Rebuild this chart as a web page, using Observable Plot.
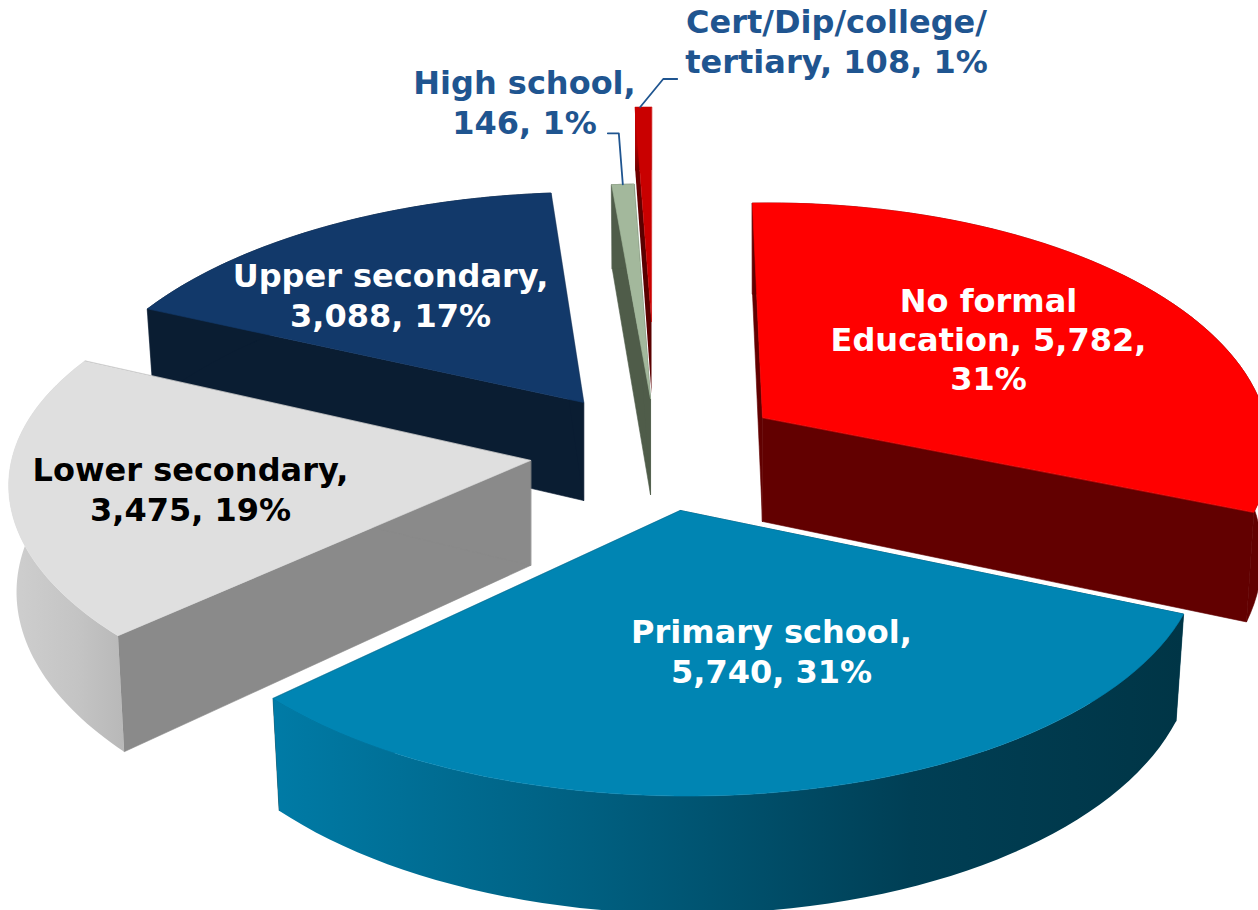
<!DOCTYPE html>
<html>
<head>
<meta charset="utf-8">
<script src="https://cdn.jsdelivr.net/npm/d3@7"></script>
<script src="https://cdn.jsdelivr.net/npm/@observablehq/plot@0.6"></script>
<style>html,body{margin:0;padding:0;background:#fff;overflow:hidden}svg{display:block}</style>
</head>
<body>
<div id="chart"></div>
<script>
// Data
const categories = ["No formal Education", "Primary school", "Lower secondary", "Upper secondary", "High school", "Cert/Dip/college/tertiary"];
const values = [5782, 5740, 3475, 3088, 146, 108];
const percents = ["31%", "31%", "19%", "17%", "1%", "1%"];
const labelLines = [
  "No formal\nEducation, 5,782,\n31%",
  "Primary school,\n5,740, 31%",
  "Lower secondary,\n3,475, 19%",
  "Upper secondary,\n3,088, 17%",
  "High school,\n146, 1%",
  "Cert/Dip/college/\ntertiary, 108, 1%"
];

// Styles
const topFill = ["#ff0000", "#0085b3", "#dfdfdf", "#12396a", "#a3b89c", "#c90000"];
const wallFill = ["#620000", "url(#wallPrimary)", "url(#wallLower)", "#0a1d32", "#4f5c49", "url(#wallCertTop)"];
const edgeFill = ["#620000", "#003a4d", "#8a8a8a", "#0a1d32", "#4f5c49", "url(#wallCert)"];
const textFill = ["#ffffff", "#ffffff", "#000000", "#ffffff", "#1f5590", "#1f5590"];

// Layout of the exploded 3D pie (pixels in the x/y scales)
const W = 1258, H = 910;
const apexX = [762, 680, 530, 583, 650, 651];
const apexY = [417, 510, 460, 402, 398, 321];
const radiusX = [503, 515, 519, 510, 510, 510];
const radiusY = [245, 245, 238, 240, 245, 245];
const rotation = [-2, 0, 2, 0, 0, 0];
const shear = [-6, 6, 20, -7, 0, 0];
const depths = [104, 101, 105, 98, 96, 72];
const persp = 0.142, shrink = 0.015;
const labelDX = [226, 91, -340, -193, -126, 185];
const labelDY = [-79, 140, 28, -108, -297, -281];
const drawOrder = [3, 5, 4, 0, 2, 1];

const arcs = d3.pie().sort(null).value(d => d)(values);
const rad = d => d * Math.PI / 180;

function pt(i, a, r, z) {
  const t = a + rad(rotation[i]);
  const X = r * Math.sin(t), Y = -r * Math.cos(t), w = 1 - persp * Y;
  return {
    x: apexX[i] + (radiusX[i] * X / w + shear[i] * Y / w) * (1 - shrink * z),
    y: apexY[i] + radiusY[i] * Y / w + depths[i] * z / w
  };
}
function arcPts(i, z) {
  const {startAngle: a0, endAngle: a1} = arcs[i];
  return d3.range(61).map(k => pt(i, a0 + (a1 - a0) * k / 60, 1, z));
}
const face = (pts, fill) => Plot.line(pts, {x: "x", y: "y", curve: "linear-closed", fill, stroke: fill.startsWith("url") ? "none" : fill, strokeWidth: 0.6});

const sliceMarks = drawOrder.flatMap(i => {
  const top = arcPts(i, 0), low = arcPts(i, 1);
  const {startAngle: a0, endAngle: a1} = arcs[i];
  const c0 = pt(i, 0, 0, 0), c1 = pt(i, 0, 0, 1);
  return [
    face([c0, pt(i, a0, 1, 0), pt(i, a0, 1, 1), c1], edgeFill[i]),
    face([c0, pt(i, a1, 1, 0), pt(i, a1, 1, 1), c1], edgeFill[i]),
    face([...top, ...low.slice().reverse()], wallFill[i]),
    face([c0, ...top], topFill[i])
  ];
});

const gradients = () => {
  const defs = d3.create("svg:defs");
  const grad = (id, horizontal, stops) => {
    const g = defs.append("linearGradient").attr("id", id)
      .attr("x1", 0).attr("y1", 0).attr("x2", horizontal ? 1 : 0).attr("y2", horizontal ? 0 : 1);
    stops.forEach(([o, c]) => g.append("stop").attr("offset", o).attr("stop-color", c));
  };
  grad("wallPrimary", true, [[0, "#007ba6"], [0.35, "#005f80"], [0.7, "#003f55"], [1, "#003546"]]);
  grad("wallLower", true, [[0, "#cfcfcf"], [0.6, "#c4c4c4"], [1, "#b8b8b8"]]);
  grad("wallCert", false, [[0, "#c00000"], [0.15, "#7a0000"], [0.4, "#5a0000"], [1, "#5a0000"]]);
  grad("wallCertTop", false, [[0, "#c90000"], [0.6, "#b00000"], [1, "#700000"]]);
  return defs.node();
};

const leaderHigh = (() => { const s = pt(4, (arcs[4].startAngle + arcs[4].endAngle) / 2, 1, 0); return [s, {x: s.x - 4, y: s.y - 51}, {x: s.x - 15, y: s.y - 51}]; })();
const leaderCert = (() => { const s = pt(5, (arcs[5].startAngle + arcs[5].endAngle) / 2, 1, 0); return [{x: s.x - 3, y: s.y}, {x: s.x + 20, y: s.y - 28}, {x: s.x + 34, y: s.y - 28}]; })();

const labels = categories.map((c, i) => ({
  category: c, value: values[i], percent: percents[i], text: labelLines[i],
  x: apexX[i] + labelDX[i], y: apexY[i] + labelDY[i], fill: textFill[i]
}));

const chart = Plot.plot({
  width: W, height: H,
  marginTop: 0, marginRight: 0, marginBottom: 0, marginLeft: 0,
  x: {domain: [0, W], range: [0, W], axis: null},
  y: {domain: [0, H], range: [0, H], axis: null},
  color: {type: "identity"},
  style: {background: "#fff"},
  marks: [
    gradients,
    ...sliceMarks,
    Plot.line(leaderHigh, {x: "x", y: "y", stroke: "#1f5590", strokeWidth: 1.8}),
    Plot.line(leaderCert, {x: "x", y: "y", stroke: "#1f5590", strokeWidth: 1.8}),
    Plot.text(labels, {
      x: "x", y: "y", text: "text", fill: "fill",
      fontFamily: "DejaVu Sans", fontWeight: "bold", fontSize: 32, lineHeight: 1.22,
      textAnchor: "middle", lineAnchor: "middle"
    })
  ]
});
document.getElementById("chart").appendChild(chart);
</script>
</body>
</html>
